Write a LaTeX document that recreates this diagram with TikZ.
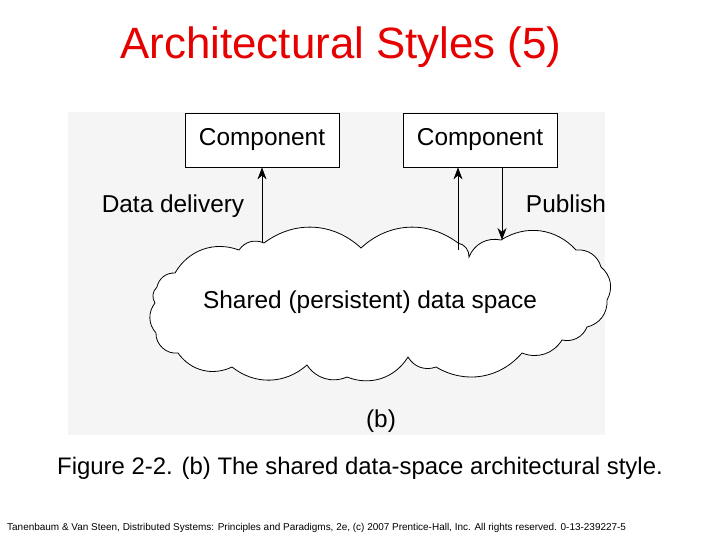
\documentclass[tikz,border=0pt]{standalone}
\usepackage{fontspec}
\setmainfont{Liberation Sans}
\usetikzlibrary{arrows.meta}
\definecolor{titlered}{RGB}{230,0,0}
\definecolor{figbg}{RGB}{245,245,245}
\tikzset{
	comp-node/.style={
		rectangle,
		draw=black, thick,
		fill=white,
		minimum width=154bp,
		minimum height=54bp,
		font=\fontsize{24.5}{28}\selectfont,
	},
	label-node/.style={font=\fontsize{24.5}{28}\selectfont},
	edge-style/.style={thick, -{Stealth[length=12bp,width=9bp]}},
}
\begin{document}
\begin{tikzpicture}[x=1bp, y=-1bp]
	\useasboundingbox (0,0) rectangle (720,540);
	\fill[figbg] (68,112) rectangle (605,435);
	\node[text=titlered, font=\fontsize{44}{48}\selectfont] (title) at (341,47) {Architectural Styles (5)};
	% components
	\node[comp-node] (compL) at (262,140) {Component};
	\node[comp-node] (compR) at (480,140) {Component};
	% the cloud
	\draw[thick, fill=white] (157,287) to[bend right=40] (155,303) to[bend right=40] (156,333)
		to[bend right=50] (178,353) to[bend right=40] (232,367) to[bend right=40] (307,365)
		to[bend right=40] (347,377) to[bend right=40] (408,357) to[bend right=40] (436,367)
		to[bend right=40] (522,353) to[bend right=40] (562,340) to[bend right=40] (587,327)
		to[bend right=40] (607,300) to[bend right=40] (601,267) to[bend right=40] (576,250)
		to[bend right=40] (501,240) to[bend right=40] (469,257) to[bend right=40] (458,243)
		to[bend right=40] (361,248) to[bend right=40] (264,243) to[bend right=40] (239,250)
		to[bend right=40] (175,273) to[bend right=40] cycle;
	\node[label-node] (space) at (370,302) {Shared (persistent) data space};
	\coordinate (inL) at (262,243);
	\coordinate (inR) at (458,250);
	\coordinate (outR) at (502,240);
	% connectors
	\draw[edge-style] (inL) -- (inL |- compL.south);
	\draw[edge-style] (inR) -- (inR |- compR.south);
	\draw[edge-style] (outR |- compR.south) -- (outR);
	\node[label-node] (delivery) at (173,206) {Data delivery};
	\node[label-node] (publish) at (566,204) {Publish};
	\node[label-node] (sub) at (381,421) {(b)};
	\node[font=\fontsize{24}{28}\selectfont] (caption) at (360,468) {Figure 2-2. (b) The shared data-space architectural style.};
	\node[font=\fontsize{10}{12}\selectfont, anchor=west, inner sep=0] (footer) at (7,528) {Tanenbaum \& Van Steen, Distributed Systems: Principles and Paradigms, 2e, (c) 2007 Prentice-Hall, Inc. All rights reserved. 0-13-239227-5};
\end{tikzpicture}
\end{document}
